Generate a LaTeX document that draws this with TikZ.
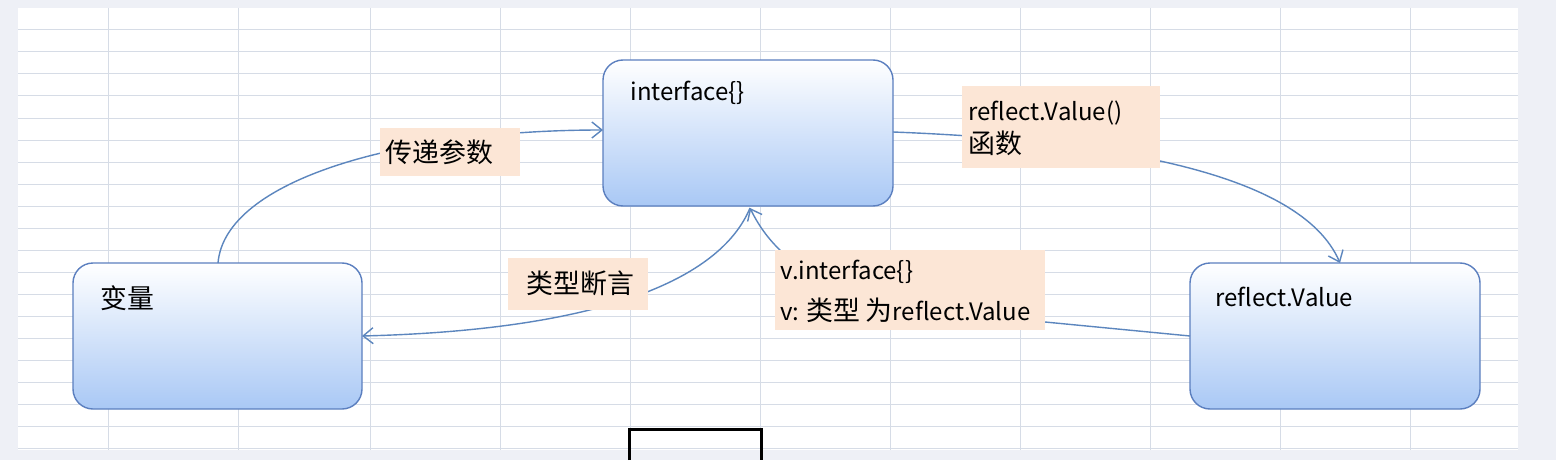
\documentclass[tikz,border=0pt]{standalone}
\usepackage{fontspec}
\setmainfont{Noto Sans CJK SC}
\newfontfamily\cjk[Scale=1.12]{Noto Sans CJK SC}
\usetikzlibrary{arrows.meta}
\definecolor{bg}{HTML}{EEF0F6}
\definecolor{grid}{HTML}{D6DCE6}
\definecolor{bord}{HTML}{5B7FBF}
\definecolor{blu}{HTML}{A9C8F5}
\definecolor{lab}{HTML}{FCE6D6}
\definecolor{arr}{HTML}{5C86BE}
\tikzset{
 box/.style={draw=bord,line width=0.7pt,rounded corners=10pt,top color=white,bottom color=blu},
 lbl/.style={fill=lab,inner sep=0pt},
 txt/.style={anchor=west,inner sep=0pt,font=\fontsize{12}{14}\selectfont,align=left},
 conn/.style={draw=arr,line width=0.7pt,-{Straight Barb[length=5pt,width=8pt]}}
}
\begin{document}
\begin{tikzpicture}[x=0.5pt,y=-0.5pt]
\useasboundingbox (0,0) rectangle (1556,460);
\fill[bg] (0,0) rectangle (1556,460);
\fill[white] (18,8) rectangle (1518,450);
\foreach \x in {108,238,370,500,630,760,890,1020,1150,1280,1410}
  \draw[grid,line width=0.5pt] (\x,8) -- (\x,450);
\foreach \y in {30,52,74,96,118,140,162,184,206,228,250,272,294,316,338,360,382,404,426,448}
  \draw[grid,line width=0.5pt] (18,\y) -- (1518,\y);
% boxes
\path[box] (603,60) rectangle (893,206);
\path[box] (73,263) rectangle (362,409);
\path[box] (1190,263) rectangle (1480,409);
\node (ifc) at (748,133) [minimum width=145pt,minimum height=73pt] {};
\node (var) at (217,336) [minimum width=145pt,minimum height=73pt] {};
\node (rv) at (1335,336) [minimum width=145pt,minimum height=73pt] {};
\node[txt] (t1) at (630,93) {interface\{\}};
\node[txt] (t2) at (100,298) {\cjk 变量};
\node[txt] (t3) at (1215,297) {reflect.Value};
\coordinate (ifl) at (603,130);
\coordinate (ifr) at (893,132);
\coordinate (ifb) at (750,208);
\coordinate (vt) at (218,263);
\coordinate (vr) at (362,336);
\coordinate (rt) at (1340,263);
\coordinate (rl) at (1190,336);
% connectors
\draw[conn] (vt) .. controls (225,180) and (400,130) .. (ifl);
\draw[conn] (ifr) .. controls (1100,140) and (1300,170) .. (rt);
\draw[conn] (rl) -- (1045,322) .. controls (850,315) and (780,270) .. (ifb);
\draw[conn] (ifb) .. controls (720,280) and (600,330) .. (vr);
% labels
\path[lbl] (380,128) rectangle (520,176);
\node[txt] (l1) at (385,152) {\cjk 传递参数};
\path[lbl] (508,258) rectangle (648,310);
\node[txt] (l2) at (526,283) {\cjk 类型断言};
\path[lbl] (962,86) rectangle (1160,168);
\node[txt] (l3a) at (968,113) {reflect.Value()};
\node[txt] (l3b) at (968,143) {\cjk 函数};
\path[lbl] (775,250) rectangle (1045,330);
\node[txt] (l4a) at (780,272) {v.interface\{\}};
\node[txt] (l4b) at (780,310) {v: {\cjk 类型} {\cjk 为}reflect.Value};
% black rectangle
\draw[black,line width=1.5pt] (629,460) -- (629,429) -- (761,429) -- (761,460);
\end{tikzpicture}
\end{document}
